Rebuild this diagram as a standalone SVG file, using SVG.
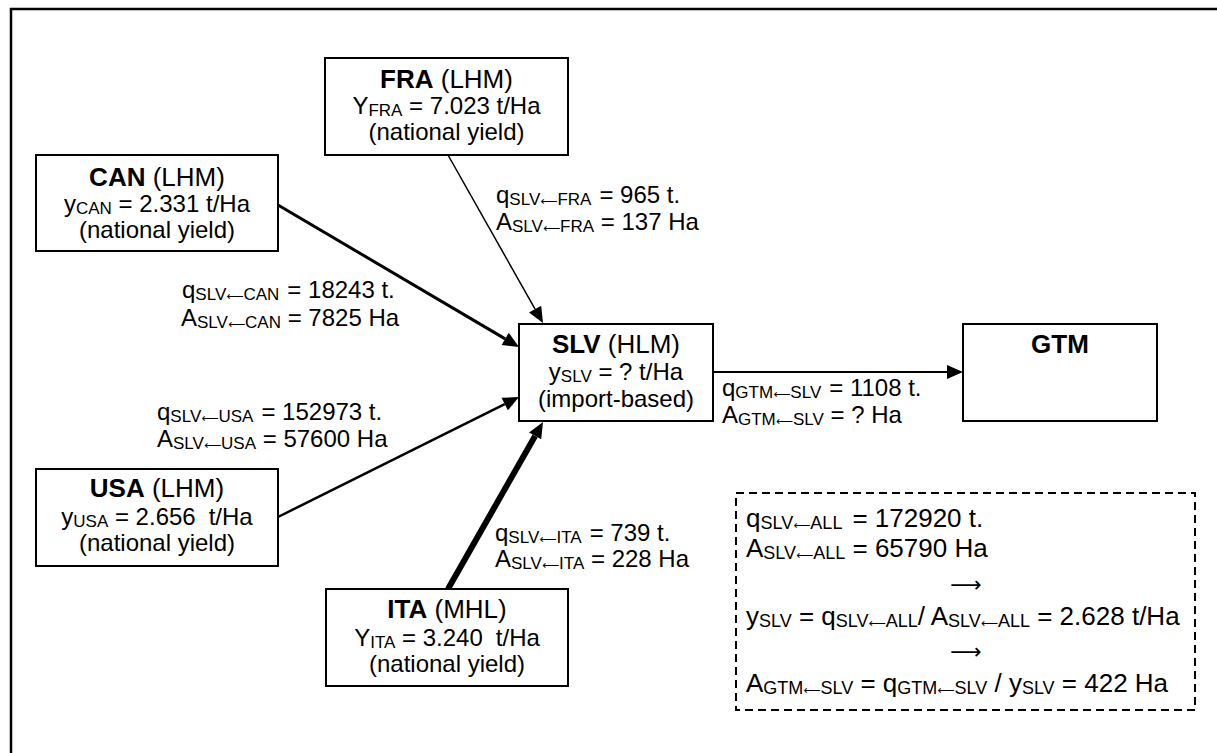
<svg xmlns="http://www.w3.org/2000/svg" width="1217" height="753" viewBox="0 0 1217 753">
<style>
text{font-family:"Liberation Sans",Arial,sans-serif;fill:#000}
.n{font-size:24px;text-anchor:middle}
.h{font-size:26px}
.b{font-weight:bold}
.s{font-size:17px}
.e{font-size:24px}
.d{font-size:26px}
.ds{font-size:18px}
.la{font-family:"DejaVu Sans",sans-serif;font-size:12px}
.box{fill:#fff;stroke:#000;stroke-width:2}
.arr{font-family:"DejaVu Sans",sans-serif;font-size:22px;text-anchor:middle}
</style>
<defs>
<marker id="ah" markerUnits="userSpaceOnUse" markerWidth="16" markerHeight="14" viewBox="0 0 16 14" refX="0" refY="7" orient="auto" overflow="visible">
<path d="M0,0 L16,7 L0,14 z" fill="#000"/>
</marker>
</defs>
<rect x="0" y="0" width="1217" height="753" fill="#fff"/>
<rect x="11" y="9" width="1260" height="800" fill="none" stroke="#000" stroke-width="2.5"/>

<g id="connectors" stroke="#000" fill="none">
<line x1="278" y1="205" x2="505.2" y2="338.9" stroke-width="3" marker-end="url(#ah)"/>
<line x1="448" y1="155" x2="535.1" y2="309.1" stroke-width="1.5" marker-end="url(#ah)"/>
<line x1="278" y1="517" x2="504.7" y2="404.1" stroke-width="2.5" marker-end="url(#ah)"/>
<line x1="448" y1="589" x2="535.1" y2="435.9" stroke-width="6" marker-end="url(#ah)"/>
<line x1="713" y1="372" x2="947" y2="372" stroke-width="2" marker-end="url(#ah)"/>
</g>

<g id="node-fra">
<rect class="box" x="325" y="58" width="243" height="97"/>
<text class="n" x="446.5" y="88"><tspan class="h b">FRA</tspan><tspan class="h"> (LHM)</tspan></text>
<text class="n" x="446.5" y="114">Y<tspan class="s" dy="2">FRA</tspan><tspan dy="-2"> = 7.023 t/Ha</tspan></text>
<text class="n" x="446.5" y="140">(national yield)</text>
</g>

<g id="node-can">
<rect class="box" x="36" y="155" width="242" height="96"/>
<text class="n" x="157" y="186"><tspan class="h b">CAN</tspan><tspan class="h"> (LHM)</tspan></text>
<text class="n" x="157" y="212">y<tspan class="s" dy="2">CAN</tspan><tspan dy="-2"> = 2.331 t/Ha</tspan></text>
<text class="n" x="157" y="238">(national yield)</text>
</g>

<g id="node-usa">
<rect class="box" x="36" y="469" width="242" height="97"/>
<text class="n" x="157" y="497"><tspan class="h b">USA</tspan><tspan class="h"> (LHM)</tspan></text>
<text class="n" x="157" y="525">y<tspan class="s" dy="2">USA</tspan><tspan dy="-2"> = 2.656</tspan><tspan dx="13">t/Ha</tspan></text>
<text class="n" x="157" y="551">(national yield)</text>
</g>

<g id="node-slv">
<rect class="box" x="519" y="324" width="194" height="97"/>
<text class="n" x="616" y="353"><tspan class="h b">SLV</tspan><tspan class="h"> (HLM)</tspan></text>
<text class="n" x="616" y="380">y<tspan class="s" dy="2">SLV</tspan><tspan dy="-2"> = ? t/Ha</tspan></text>
<text class="n" x="616" y="407">(import-based)</text>
</g>

<g id="node-gtm">
<rect class="box" x="963" y="324" width="194" height="97"/>
<text class="n" x="1060" y="353"><tspan class="h b">GTM</tspan></text>
</g>

<g id="node-ita">
<rect class="box" x="326" y="589" width="242" height="97"/>
<text class="n" x="447" y="618"><tspan class="h b">ITA</tspan><tspan class="h"> (MHL)</tspan></text>
<text class="n" x="447" y="646">Y<tspan class="s" dy="2">ITA</tspan><tspan dy="-2"> = 3.240</tspan><tspan dx="13">t/Ha</tspan></text>
<text class="n" x="447" y="672">(national yield)</text>
</g>

<g id="labels">
<text class="e" x="496" y="203">q<tspan class="s" dy="2">SLV</tspan><tspan class="la">⟵</tspan><tspan class="s">FRA</tspan><tspan dy="-2" dx="8">= 965 t.</tspan></text>
<text class="e" x="496" y="230">A<tspan class="s" dy="2">SLV</tspan><tspan class="la">⟵</tspan><tspan class="s">FRA</tspan><tspan dy="-2"> = 137 Ha</tspan></text>

<text class="e" x="182" y="298">q<tspan class="s" dy="2">SLV</tspan><tspan class="la">⟵</tspan><tspan class="s">CAN</tspan><tspan dy="-2" dx="8">= 18243 t.</tspan></text>
<text class="e" x="181" y="326">A<tspan class="s" dy="2">SLV</tspan><tspan class="la">⟵</tspan><tspan class="s">CAN</tspan><tspan dy="-2"> = 7825 Ha</tspan></text>

<text class="e" x="157" y="420">q<tspan class="s" dy="2">SLV</tspan><tspan class="la">⟵</tspan><tspan class="s">USA</tspan><tspan dy="-2" dx="8">= 152973 t.</tspan></text>
<text class="e" x="157" y="447">A<tspan class="s" dy="2">SLV</tspan><tspan class="la">⟵</tspan><tspan class="s">USA</tspan><tspan dy="-2"> = 57600 Ha</tspan></text>

<text class="e" x="495" y="541">q<tspan class="s" dy="2">SLV</tspan><tspan class="la">⟵</tspan><tspan class="s">ITA</tspan><tspan dy="-2" dx="8">= 739 t.</tspan></text>
<text class="e" x="495" y="567">A<tspan class="s" dy="2">SLV</tspan><tspan class="la">⟵</tspan><tspan class="s">ITA</tspan><tspan dy="-2"> = 228 Ha</tspan></text>

<text class="e" x="722" y="396">q<tspan class="s" dy="2">GTM</tspan><tspan class="la">⟵</tspan><tspan class="s">SLV</tspan><tspan dy="-2" dx="8">= 1108 t.</tspan></text>
<text class="e" x="722" y="423">A<tspan class="s" dy="2">GTM</tspan><tspan class="la">⟵</tspan><tspan class="s">SLV</tspan><tspan dy="-2"> = ? Ha</tspan></text>
</g>

<g id="summary">
<rect x="736" y="493" width="459" height="217" fill="none" stroke="#000" stroke-width="2" stroke-dasharray="8 5"/>
<text class="d" x="746" y="527">q<tspan class="ds" dy="2">SLV</tspan><tspan class="la">⟵</tspan><tspan class="ds">ALL</tspan><tspan dy="-2" dx="10">= 172920 t.</tspan></text>
<text class="d" x="746" y="557">A<tspan class="ds" dy="2">SLV</tspan><tspan class="la">⟵</tspan><tspan class="ds">ALL</tspan><tspan dy="-2"> = 65790 Ha</tspan></text>
<text class="arr" x="966" y="592">⟶</text>
<text class="d" x="746" y="625">y<tspan class="ds" dy="2">SLV</tspan><tspan dy="-2"> = q</tspan><tspan class="ds" dy="2">SLV</tspan><tspan class="la">⟵</tspan><tspan class="ds">ALL</tspan><tspan dy="-2">/ A</tspan><tspan class="ds" dy="2">SLV</tspan><tspan class="la">⟵</tspan><tspan class="ds">ALL</tspan><tspan dy="-2"> = 2.628 t/Ha</tspan></text>
<text class="arr" x="966" y="659">⟶</text>
<text class="d" x="746" y="692">A<tspan class="ds" dy="2">GTM</tspan><tspan class="la">⟵</tspan><tspan class="ds">SLV</tspan><tspan dy="-2"> = q</tspan><tspan class="ds" dy="2">GTM</tspan><tspan class="la">⟵</tspan><tspan class="ds">SLV</tspan><tspan dy="-2"> / y</tspan><tspan class="ds" dy="2">SLV</tspan><tspan dy="-2"> = 422 Ha</tspan></text>
</g>
</svg>
